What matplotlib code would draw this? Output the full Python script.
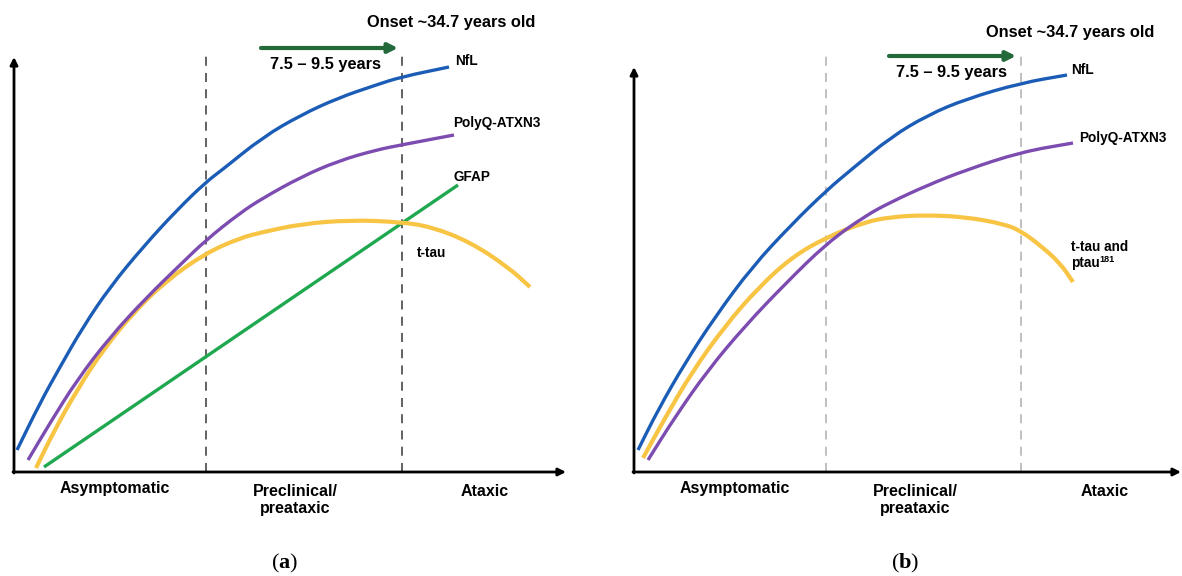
import matplotlib
matplotlib.use("Agg")
import matplotlib.pyplot as plt
from matplotlib.path import Path
from matplotlib.patches import PathPatch

plt.rcParams["font.family"] = ["Liberation Sans", "DejaVu Sans"]
plt.rcParams["mathtext.fontset"] = "custom"
plt.rcParams["mathtext.rm"] = "Liberation Serif"
plt.rcParams["mathtext.bf"] = "Liberation Serif:bold"

# stage labels on the x axis
stages = ["Asymptomatic", "Preclinical/\npreataxic", "Ataxic"]
stage_x = [101, 281, 471]

# panel (a) curves (x = time, y = level)
nfl_a_x = [3, 26, 46, 69, 96, 129, 163, 192, 208, 249, 287, 324, 362, 387, 435]
nfl_a_y = [22, 69, 105, 145, 185, 225, 262, 290, 302, 335, 357, 374, 387, 395, 405]
polyq_a_x = [14, 36, 63, 96, 133, 166, 192, 226, 249, 287, 324, 362, 387, 440]
polyq_a_y = [12, 49, 92, 135, 175, 207, 232, 259, 274, 295, 311, 322, 327, 337]
ttau_a_x = [22, 39, 63, 89, 119, 153, 192, 226, 249, 287, 336, 387, 418, 456, 494, 516]
ttau_a_y = [4, 39, 82, 122, 159, 192, 219, 234, 240, 248, 252, 250, 245, 230, 205, 185]
gfap_a_x = [30, 444]
gfap_a_y = [5, 287]

# panel (b) curves
nfl_b_x = [4, 24, 51, 81, 118, 158, 193, 218, 257, 294, 332, 387, 433]
nfl_b_y = [22, 62, 109, 155, 205, 248, 282, 303, 335, 357, 373, 389, 397]
polyq_b_x = [14, 41, 74, 111, 151, 193, 231, 257, 294, 332, 387, 439]
polyq_b_y = [12, 55, 102, 146, 188, 229, 256, 270, 287, 302, 320, 329]
ttau_b_x = [9, 31, 58, 91, 124, 158, 193, 231, 257, 291, 332, 370, 387, 407, 426, 439]
ttau_b_y = [14, 54, 100, 146, 184, 215, 235, 250, 255, 257, 255, 248, 241, 226, 209, 190]

BLUE = "#1b5db6"
PURPLE = "#7c4cb1"
YELLOW = "#f8c444"
GREEN = "#1fa84f"
DKGREEN = "#23693a"

W_PX, H_PX = 1182, 576
fig = plt.figure(figsize=(W_PX / 100, H_PX / 100), dpi=100)


def make_panel(left, width, height):
    ax = fig.add_axes([left / W_PX, 104 / H_PX, width / W_PX, height / H_PX])
    ax.set_xlim(0, width)
    ax.set_ylim(0, height)
    ax.axis("off")
    return ax


def curve(ax, xs, ys, color, lw, z):
    # smooth quadratic bezier through the read points (midpoint scheme)
    pts = list(zip(xs, ys))
    verts = [pts[0]]
    codes = [Path.MOVETO]
    for i in range(1, len(pts) - 1):
        m0 = ((pts[i - 1][0] + pts[i][0]) / 2, (pts[i - 1][1] + pts[i][1]) / 2)
        m1 = ((pts[i][0] + pts[i + 1][0]) / 2, (pts[i][1] + pts[i + 1][1]) / 2)
        if i == 1:
            verts.append(m0)
            codes.append(Path.LINETO)
        verts += [pts[i], m1]
        codes += [Path.CURVE3, Path.CURVE3]
    verts.append(pts[-1])
    codes.append(Path.LINETO)
    ax.add_patch(PathPatch(Path(verts, codes), fill=False, edgecolor=color,
                           lw=lw, capstyle="butt", joinstyle="round", zorder=z))


def axes_arrows(ax, xend, yend):
    arr = dict(arrowstyle="-|>", lw=2, color="black", mutation_scale=11,
               shrinkA=0, shrinkB=0)
    ax.annotate("", xy=(0, yend), xytext=(0, -1), arrowprops=arr,
                annotation_clip=False)
    ax.annotate("", xy=(xend, 0), xytext=(-1, 0), arrowprops=arr,
                annotation_clip=False)


def common(ax, dash_x, dash_top, dash_col, arrow_x, arrow_y, onset_xy, years_xy, letter):
    for x in dash_x:
        ax.plot([x, x], [0, dash_top], color=dash_col, lw=1.3,
                dashes=(5, 4), zorder=1)
    ax.annotate("", xy=(arrow_x[1], arrow_y), xytext=(arrow_x[0], arrow_y),
                arrowprops=dict(arrowstyle="-|>", lw=3, color=DKGREEN,
                                mutation_scale=14, shrinkA=0, shrinkB=0),
                annotation_clip=False)
    ax.text(*onset_xy, "Onset ~34.7 years old", fontsize=11.8, weight="bold",
            ha="center", va="center", clip_on=False)
    ax.text(*years_xy, "7.5 \u2013 9.5 years", fontsize=11.8, weight="bold",
            ha="center", va="center", clip_on=False)
    for lab, x, dy in zip(stages, stage_x, [-16, -28, -19]):
        ax.text(x, dy, lab, fontsize=11.5, weight="bold", ha="center",
                va="center", linespacing=1.15, clip_on=False)
    ax.text(271, -91, r"$\mathrm{(}\mathbf{" + letter + r"}\mathrm{)}$",
            fontsize=16, ha="center", va="center", clip_on=False)


def lab(ax, x, y, s):
    ax.text(x, y, s, fontsize=9.8, weight="bold", ha="left", va="center",
            clip_on=False)


# ---- panel (a)
ax = make_panel(14, 560, 420)
axes_arrows(ax, 552, 415)
common(ax, [192, 388], 422, "#555555", [247, 384], 424, (437, 449), (312, 407), "a")
ax.plot(gfap_a_x, gfap_a_y, color=GREEN, lw=2.4, solid_capstyle="butt", zorder=2)
curve(ax, ttau_a_x, ttau_a_y, YELLOW, 3.0, 2)
curve(ax, polyq_a_x, polyq_a_y, PURPLE, 2.4, 3)
curve(ax, nfl_a_x, nfl_a_y, BLUE, 2.4, 3)
lab(ax, 441, 411, "NfL")
lab(ax, 439, 349, "PolyQ-ATXN3")
lab(ax, 439, 295, "GFAP")
lab(ax, 403, 219, "t-tau")

# ---- panel (b)
ax = make_panel(634, 548, 420)
axes_arrows(ax, 547, 405)
common(ax, [192, 387], 417, "#bbbbbb", [255, 382], 416, (436, 440), (318, 400), "b")
curve(ax, ttau_b_x, ttau_b_y, YELLOW, 3.0, 2)
curve(ax, polyq_b_x, polyq_b_y, PURPLE, 2.4, 3)
curve(ax, nfl_b_x, nfl_b_y, BLUE, 2.4, 3)
lab(ax, 437, 402, "NfL")
lab(ax, 445, 334, "PolyQ-ATXN3")
lab(ax, 437, 225, "t-tau and")
lab(ax, 437, 209, "ptau")
ax.text(465, 213, "181", fontsize=6.5, weight="bold", ha="left", va="center",
        clip_on=False)

fig.savefig("out.png", dpi=100)
